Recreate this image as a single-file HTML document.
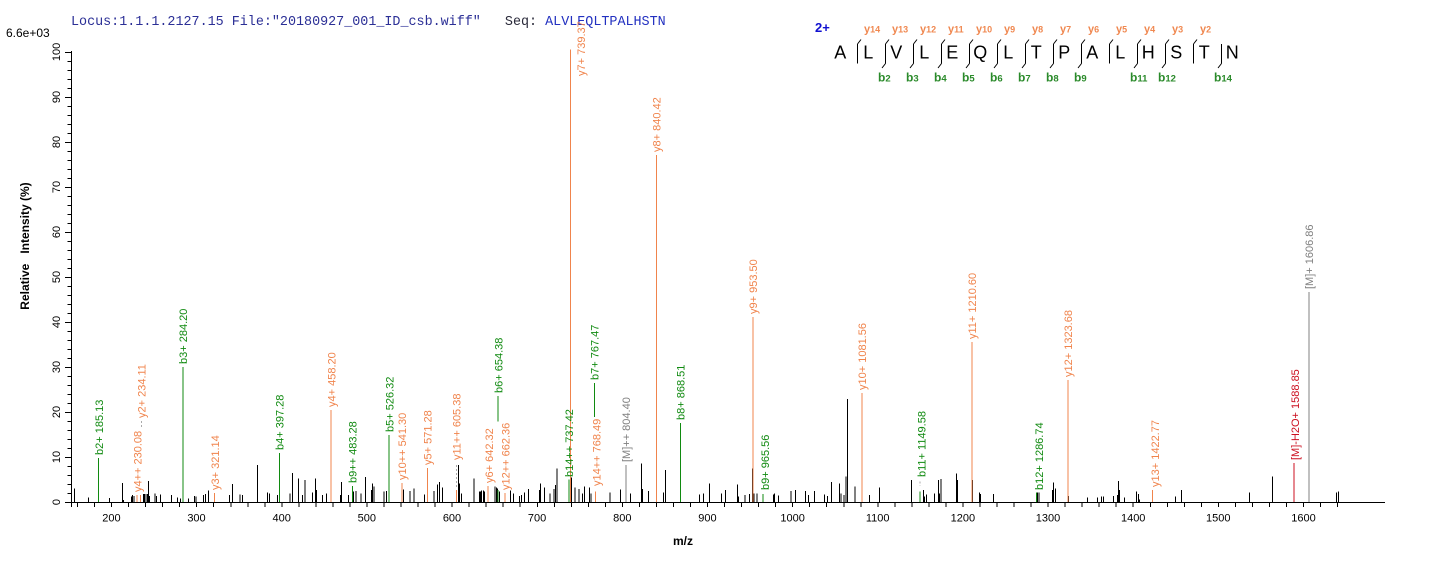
<!DOCTYPE html>
<html><head><meta charset="utf-8"><style>
html,body{margin:0;padding:0;background:#fff;}
svg{display:block;}
.pl{font-family:"Liberation Sans",Arial,sans-serif;font-size:11px;}
.tk{font-family:"Liberation Sans",Arial,sans-serif;font-size:11px;fill:#000;}
.g{fill:#108a10;} .o{fill:#f0844c;} .gy{fill:#808080;} .r{fill:#cc1020;}
</style></head><body>
<svg width="1436" height="562" viewBox="0 0 1436 562" xmlns="http://www.w3.org/2000/svg">
<rect width="1436" height="562" fill="#fff"/>
<!-- header -->
<text x="71" y="25" font-family="'Liberation Mono',monospace" font-size="13.4" xml:space="preserve"><tspan fill="#2b2f96">Locus:1.1.1.2127.15 File:"20180927_001_ID_csb.wiff"</tspan><tspan fill="#2a2a3a">   Seq: </tspan><tspan fill="#2230c0">ALVLEQLTPALHSTN</tspan></text>
<text x="6" y="37" font-family="'Liberation Sans',Arial,sans-serif" font-size="12" fill="#000">6.6e+03</text>

<!-- sequence diagram -->
<text x="815" y="32" font-family="'Liberation Sans',Arial,sans-serif" font-size="13" font-weight="bold" fill="#1010d0">2+</text>
<g font-family="'Liberation Sans',Arial,sans-serif" font-size="18" fill="#000" text-anchor="middle">
<text x="840.3" y="58.3">A</text><text x="868.3" y="58.3">L</text><text x="896.3" y="58.3">V</text><text x="924.3" y="58.3">L</text><text x="952.3" y="58.3">E</text><text x="980.3" y="58.3">Q</text><text x="1008.3" y="58.3">L</text><text x="1036.3" y="58.3">T</text><text x="1064.3" y="58.3">P</text><text x="1092.3" y="58.3">A</text><text x="1120.3" y="58.3">L</text><text x="1148.3" y="58.3">H</text><text x="1176.3" y="58.3">S</text><text x="1204.3" y="58.3">T</text><text x="1232.3" y="58.3">N</text>
</g>
<g stroke="#000" stroke-width="1" fill="none">
<path d="M857.5 44V63.5 M885.5 44V63.5 M913.5 44V63.5 M941.5 44V63.5 M969.5 44V63.5 M997.5 44V63.5 M1025.5 44V63.5 M1053.5 44V63.5 M1081.5 44V63.5 M1109.5 44V63.5 M1137.5 44V63.5 M1165.5 44V63.5 M1193.5 44V63.5 M1221.5 44V63.5"/>
<path d="M857.5 44l3.5-4.5 M885.5 44l3.5-4.5 M913.5 44l3.5-4.5 M941.5 44l3.5-4.5 M969.5 44l3.5-4.5 M997.5 44l3.5-4.5 M1025.5 44l3.5-4.5 M1053.5 44l3.5-4.5 M1081.5 44l3.5-4.5 M1109.5 44l3.5-4.5 M1137.5 44l3.5-4.5 M1165.5 44l3.5-4.5 M1193.5 44l3.5-4.5"/>
<path d="M885.5 63.5l-3.5 4.5 M913.5 63.5l-3.5 4.5 M941.5 63.5l-3.5 4.5 M969.5 63.5l-3.5 4.5 M997.5 63.5l-3.5 4.5 M1025.5 63.5l-3.5 4.5 M1053.5 63.5l-3.5 4.5 M1081.5 63.5l-3.5 4.5 M1137.5 63.5l-3.5 4.5 M1165.5 63.5l-3.5 4.5 M1221.5 63.5l-3.5 4.5"/>
</g>
<g font-family="'Liberation Sans',Arial,sans-serif" font-weight="bold" fill="#f08850">
<text x="864" y="32.5"><tspan font-size="11">y</tspan><tspan font-size="9">14</tspan></text>
<text x="892" y="32.5"><tspan font-size="11">y</tspan><tspan font-size="9">13</tspan></text>
<text x="920" y="32.5"><tspan font-size="11">y</tspan><tspan font-size="9">12</tspan></text>
<text x="948" y="32.5"><tspan font-size="11">y</tspan><tspan font-size="9">11</tspan></text>
<text x="976" y="32.5"><tspan font-size="11">y</tspan><tspan font-size="9">10</tspan></text>
<text x="1004" y="32.5"><tspan font-size="11">y</tspan><tspan font-size="9">9</tspan></text>
<text x="1032" y="32.5"><tspan font-size="11">y</tspan><tspan font-size="9">8</tspan></text>
<text x="1060" y="32.5"><tspan font-size="11">y</tspan><tspan font-size="9">7</tspan></text>
<text x="1088" y="32.5"><tspan font-size="11">y</tspan><tspan font-size="9">6</tspan></text>
<text x="1116" y="32.5"><tspan font-size="11">y</tspan><tspan font-size="9">5</tspan></text>
<text x="1144" y="32.5"><tspan font-size="11">y</tspan><tspan font-size="9">4</tspan></text>
<text x="1172" y="32.5"><tspan font-size="11">y</tspan><tspan font-size="9">3</tspan></text>
<text x="1200" y="32.5"><tspan font-size="11">y</tspan><tspan font-size="9">2</tspan></text>
</g>
<g font-family="'Liberation Sans',Arial,sans-serif" font-weight="bold" fill="#2a8a2a">
<text x="878" y="81.5"><tspan font-size="12">b</tspan><tspan font-size="9.5">2</tspan></text>
<text x="906" y="81.5"><tspan font-size="12">b</tspan><tspan font-size="9.5">3</tspan></text>
<text x="934" y="81.5"><tspan font-size="12">b</tspan><tspan font-size="9.5">4</tspan></text>
<text x="962" y="81.5"><tspan font-size="12">b</tspan><tspan font-size="9.5">5</tspan></text>
<text x="990" y="81.5"><tspan font-size="12">b</tspan><tspan font-size="9.5">6</tspan></text>
<text x="1018" y="81.5"><tspan font-size="12">b</tspan><tspan font-size="9.5">7</tspan></text>
<text x="1046" y="81.5"><tspan font-size="12">b</tspan><tspan font-size="9.5">8</tspan></text>
<text x="1074" y="81.5"><tspan font-size="12">b</tspan><tspan font-size="9.5">9</tspan></text>
<text x="1130" y="81.5"><tspan font-size="12">b</tspan><tspan font-size="9.5">11</tspan></text>
<text x="1158" y="81.5"><tspan font-size="12">b</tspan><tspan font-size="9.5">12</tspan></text>
<text x="1214" y="81.5"><tspan font-size="12">b</tspan><tspan font-size="9.5">14</tspan></text>
</g>

<!-- axes -->
<g stroke="#000" stroke-width="1" fill="none" shape-rendering="crispEdges">
<path d="M71.5 51V507 M71 502.5H1385"/>
<path d="M67.5 502.5h4 m-4-9h4 m-4-9h4 m-4-9h4 m-4-9h4 m-4-9h4 m-4-9h4 m-4-9h4 m-4-9h4 m-4-9h4 m-4-9h4 m-4-9h4 m-4-9h4 m-4-9h4 m-4-9h4 m-4-9h4 m-4-9h4 m-4-9h4 m-4-9h4 m-4-9h4 m-4-9h4 m-4-9h4 m-4-9h4 m-4-9h4 m-4-9h4 m-4-9h4 m-4-9h4 m-4-9h4 m-4-9h4 m-4-9h4 m-4-9h4 m-4-9h4 m-4-9h4 m-4-9h4 m-4-9h4 m-4-9h4 m-4-9h4 m-4-9h4 m-4-9h4 m-4-9h4 m-4-9h4 m-4-9h4 m-4-9h4 m-4-9h4 m-4-9h4 m-4-9h4 m-4-9h4 m-4-9h4 m-4-9h4 m-4-9h4 m-4-9h4"/>
<path d="M65 502.5h6 M65 457.5h6 M65 412.5h6 M65 367.5h6 M65 322.5h6 M65 277.5h6 M65 232.5h6 M65 187.5h6 M65 142.5h6 M65 97.5h6 M65 52.5h6"/>
<path d="M77.5 502v5 m17.028-5v5 m17.028-5v5 m17.028-5v5 m17.028-5v5 m17.028-5v5 m17.028-5v5 m17.028-5v5 m17.028-5v5 m17.028-5v5 m17.028-5v5 m17.028-5v5 m17.028-5v5 m17.028-5v5 m17.028-5v5 m17.028-5v5 m17.028-5v5 m17.028-5v5 m17.028-5v5 m17.028-5v5 m17.028-5v5 m17.028-5v5 m17.028-5v5 m17.028-5v5 m17.028-5v5 m17.028-5v5 m17.028-5v5 m17.028-5v5 m17.028-5v5 m17.028-5v5 m17.028-5v5 m17.028-5v5 m17.028-5v5 m17.028-5v5 m17.028-5v5 m17.028-5v5 m17.028-5v5 m17.028-5v5 m17.028-5v5 m17.028-5v5 m17.028-5v5 m17.028-5v5 m17.028-5v5 m17.028-5v5 m17.028-5v5 m17.028-5v5 m17.028-5v5 m17.028-5v5 m17.028-5v5 m17.028-5v5 m17.028-5v5 m17.028-5v5 m17.028-5v5 m17.028-5v5 m17.028-5v5 m17.028-5v5 m17.028-5v5 m17.028-5v5 m17.028-5v5 m17.028-5v5 m17.028-5v5 m17.028-5v5 m17.028-5v5 m17.028-5v5 m17.028-5v5 m17.028-5v5 m17.028-5v5 m17.028-5v5 m17.028-5v5 m17.028-5v5 m17.028-5v5 m17.028-5v5 m17.028-5v5 m17.028-5v5 m17.028-5v5"/>
</g>
<!-- y tick labels -->
<g class="tk" text-anchor="middle">
<text transform="translate(60,502) rotate(-90)">0</text>
<text transform="translate(60,457) rotate(-90)">10</text>
<text transform="translate(60,412) rotate(-90)">20</text>
<text transform="translate(60,367) rotate(-90)">30</text>
<text transform="translate(60,322) rotate(-90)">40</text>
<text transform="translate(60,277) rotate(-90)">50</text>
<text transform="translate(60,232) rotate(-90)">60</text>
<text transform="translate(60,187) rotate(-90)">70</text>
<text transform="translate(60,142) rotate(-90)">80</text>
<text transform="translate(60,97) rotate(-90)">90</text>
<text transform="translate(60,52) rotate(-90)">100</text>
</g>
<!-- x tick labels -->
<g class="tk" text-anchor="middle">
<text x="111.4" y="521.5">200</text><text x="196.5" y="521.5">300</text><text x="281.7" y="521.5">400</text><text x="366.8" y="521.5">500</text><text x="452" y="521.5">600</text><text x="537.1" y="521.5">700</text><text x="622.3" y="521.5">800</text><text x="707.4" y="521.5">900</text><text x="792.6" y="521.5">1000</text><text x="877.7" y="521.5">1100</text><text x="962.9" y="521.5">1200</text><text x="1048" y="521.5">1300</text><text x="1133.2" y="521.5">1400</text><text x="1218.3" y="521.5">1500</text><text x="1303.5" y="521.5">1600</text>
</g>
<text x="683" y="545" text-anchor="middle" font-family="'Liberation Sans',Arial,sans-serif" font-size="12" font-weight="bold">m/z</text>
<text transform="translate(29,246) rotate(-90)" text-anchor="middle" font-family="'Liberation Sans',Arial,sans-serif" font-size="12" font-weight="bold" xml:space="preserve">Relative   Intensity (%)</text>

<!-- black peaks -->
<path stroke="#000" stroke-width="1" fill="none" shape-rendering="crispEdges" d="M74.3 502V488.3 M88.3 502V497.7 M109.3 502V498 M122.3 502V483 M123.3 502V500 M131.7 502V496.7 M132.7 502V495 M134 502V496 M143.3 502V494 M144.3 502V494 M146 502V494 M147.3 502V494 M148.3 502V481 M149.3 502V496 M155 502V493.3 M156.7 502V496 M160.7 502V494.3 M171.7 502V495 M177.7 502V497.3 M180.7 502V498.3 M188.3 502V498.3 M194.3 502V496 M196 502V496.7 M203.3 502V495 M205.7 502V494 M208.3 502V490.7 M229.3 502V495 M232.3 502V484 M240 502V494.3 M242.7 502V495 M257.7 502V465 M267.3 502V492.3 M269.3 502V493.3 M277.3 502V495 M290 502V493.3 M292.3 502V473 M298.3 502V478.7 M302.7 502V495 M305 502V480 M312.7 502V492.7 M315.3 502V478.7 M316.7 502V490 M322.7 502V495 M326.7 502V493.7 M340.7 502V495 M341.7 502V482 M348.7 502V495 M353.3 502V491.7 M356 502V491 M361 502V493.3 M365.7 502V477 M371.7 502V490 M372.7 502V483.3 M374 502V486.7 M384 502V491.7 M386.7 502V491 M403.3 502V489.3 M410 502V491 M414 502V488.3 M424.3 502V494.3 M434 502V491 M437.7 502V484.3 M439.3 502V482 M442.3 502V487.7 M458.3 502V465 M459.3 502V483.3 M461.7 502V493.3 M474 502V478.3 M479.3 502V491.7 M480.7 502V491.7 M481.7 502V490.7 M483.3 502V490.7 M484.7 502V491.7 M495 502V486.7 M496.7 502V487.3 M497.7 502V488.3 M499.3 502V491.7 M510.7 502V490.7 M513.3 502V493.3 M519.3 502V496 M521.7 502V495 M524.3 502V492.3 M528.7 502V489 M539.3 502V490 M540.3 502V483.3 M544.3 502V487.7 M550 502V493.3 M554 502V489 M555.3 502V485 M557 502V468.3 M571.3 502V477.3 M575 502V487.3 M579 502V489 M582.3 502V493.3 M584.3 502V486.7 M589.3 502V487.3 M591 502V493.3 M610 502V492.3 M620.7 502V489.3 M630.7 502V493.3 M641.7 502V463.3 M642.3 502V489 M648.3 502V491 M663.3 502V492.3 M665.3 502V470 M699.3 502V494.3 M703.3 502V493.3 M709.3 502V483.3 M721.7 502V493.3 M725.7 502V490 M737.3 502V484.3 M738.3 502V496.7 M745 502V495 M749.3 502V494 M752.3 502V468.3 M754 502V493.3 M757 502V493.3 M773.3 502V494.3 M774.7 502V493.3 M778.3 502V495.3 M791 502V491 M795.3 502V490 M805.7 502V491 M808.3 502V495 M814.3 502V491 M824.3 502V494.3 M827.3 502V496 M831.7 502V482 M839.3 502V483.3 M841 502V493.3 M844 502V495 M846 502V476.7 M847.3 502V399 M855 502V486.7 M869.3 502V495 M879.3 502V487.3 M911.7 502V480 M923.3 502V490 M924.3 502V496.7 M926.7 502V494.3 M934.3 502V493.3 M938.3 502V480 M939.3 502V493.3 M941 502V479 M956.7 502V473.3 M957.7 502V480 M972.3 502V480 M979.3 502V492.7 M980.7 502V494 M993.3 502V494 M1037.3 502V492.7 M1039 502V492.7 M1052.3 502V490 M1053.3 502V482.7 M1055.3 502V488.7 M1068.3 502V496 M1087.3 502V497.7 M1097.7 502V497.7 M1101.7 502V496.7 M1103.3 502V496.7 M1113.3 502V496 M1117.7 502V495 M1118.7 502V481 M1119.7 502V490 M1124.3 502V497.7 M1136.3 502V491.7 M1138.7 502V494 M1139.3 502V499.3 M1175.3 502V496.7 M1181.7 502V490 M1249.3 502V492.7 M1272.3 502V476.7 M1336.7 502V492.7 M1338.3 502V491.7"/>

<!-- annotated peaks: lines -->
<g stroke-width="1" fill="none" shape-rendering="crispEdges">
<path stroke="#108a10" d="M98.7 502V458 M183 502V367 M279.3 502V453 M352.5 502V486 M389.2 502V435 M498.2 396V421.7 M498.2 502V490 M568.9 502V479.3 M594.4 383V417 M680.5 502V423 M763.2 502V494 M919.8 502V491.7 M1036.6 502V492.7"/>
<path stroke="#f0844c" d="M137 502V495 M140.4 502V495 M214.5 502V493 M331.2 502V410 M401.9 502V483 M427.5 502V468 M456.5 502V490 M488 502V486 M504.9 502V493 M570.6 502V49.3 M595.3 502V491.7 M656.6 502V155 M752.9 502V317 M861.9 502V393 M971.8 502V342 M1068.1 502V380 M1152.4 502V490"/>
<path stroke="#808080" d="M625.9 502V465 M1309.2 502V292"/>
<path stroke="#aaaaaa" stroke-dasharray="2,2" d="M141.7 421V429 M456.5 465V487 M919.8 481.5V486"/>
<path stroke="#cc1020" d="M1293.8 502V463"/>
</g>

<!-- annotated peaks: labels -->
<g class="pl">
<text class="g" transform="translate(99,455) rotate(-90)" y="4">b2+ 185.13</text>
<text class="o" transform="translate(137.5,492) rotate(-90)" y="4">y4++ 230.08</text>
<text class="o" transform="translate(141.7,418) rotate(-90)" y="4">y2+ 234.11</text>
<text class="g" transform="translate(183,364) rotate(-90)" y="4">b3+ 284.20</text>
<text class="o" transform="translate(215,490) rotate(-90)" y="4">y3+ 321.14</text>
<text class="g" transform="translate(279.5,450) rotate(-90)" y="4">b4+ 397.28</text>
<text class="o" transform="translate(331.5,407) rotate(-90)" y="4">y4+ 458.20</text>
<text class="g" transform="translate(352.5,483) rotate(-90)" y="4">b9++ 483.28</text>
<text class="g" transform="translate(389.5,432) rotate(-90)" y="4">b5+ 526.32</text>
<text class="o" transform="translate(402,480) rotate(-90)" y="4">y10++ 541.30</text>
<text class="o" transform="translate(427.5,465) rotate(-90)" y="4">y5+ 571.28</text>
<text class="o" transform="translate(456.5,460) rotate(-90)" y="4">y11++ 605.38</text>
<text class="o" transform="translate(489,483) rotate(-90)" y="4">y6+ 642.32</text>
<text class="g" transform="translate(498.5,393) rotate(-90)" y="4">b6+ 654.38</text>
<text class="o" transform="translate(505.5,490) rotate(-90)" y="4">y12++ 662.36</text>
<text class="g" transform="translate(569,477) rotate(-90)" y="4">b14++ 737.42</text>
<text class="o" transform="translate(581,76) rotate(-90)" y="4">y7+ 739.37</text>
<text class="g" transform="translate(594.5,380) rotate(-90)" y="4">b7+ 767.47</text>
<text class="o" transform="translate(596.5,486) rotate(-90)" y="4">y14++ 768.49</text>
<text class="gy" transform="translate(626,462) rotate(-90)" y="4">[M]++ 804.40</text>
<text class="o" transform="translate(656.6,152) rotate(-90)" y="4">y8+ 840.42</text>
<text class="g" transform="translate(680.5,420) rotate(-90)" y="4">b8+ 868.51</text>
<text class="o" transform="translate(753,314) rotate(-90)" y="4">y9+ 953.50</text>
<text class="g" transform="translate(765,490) rotate(-90)" y="4">b9+ 965.56</text>
<text class="o" transform="translate(862,390) rotate(-90)" y="4">y10+ 1081.56</text>
<text class="g" transform="translate(921.5,477) rotate(-90)" y="4">b11+ 1149.58</text>
<text class="o" transform="translate(972,339) rotate(-90)" y="4">y11+ 1210.60</text>
<text class="g" transform="translate(1039,490) rotate(-90)" y="4">b12+ 1286.74</text>
<text class="o" transform="translate(1068,377) rotate(-90)" y="4">y12+ 1323.68</text>
<text class="o" transform="translate(1155,487) rotate(-90)" y="4">y13+ 1422.77</text>
<text class="r" transform="translate(1295,460) rotate(-90)" y="4">[M]-H2O+ 1588.85</text>
<text class="gy" transform="translate(1309,289) rotate(-90)" y="4">[M]+ 1606.86</text>
</g>
</svg>
</body></html>
